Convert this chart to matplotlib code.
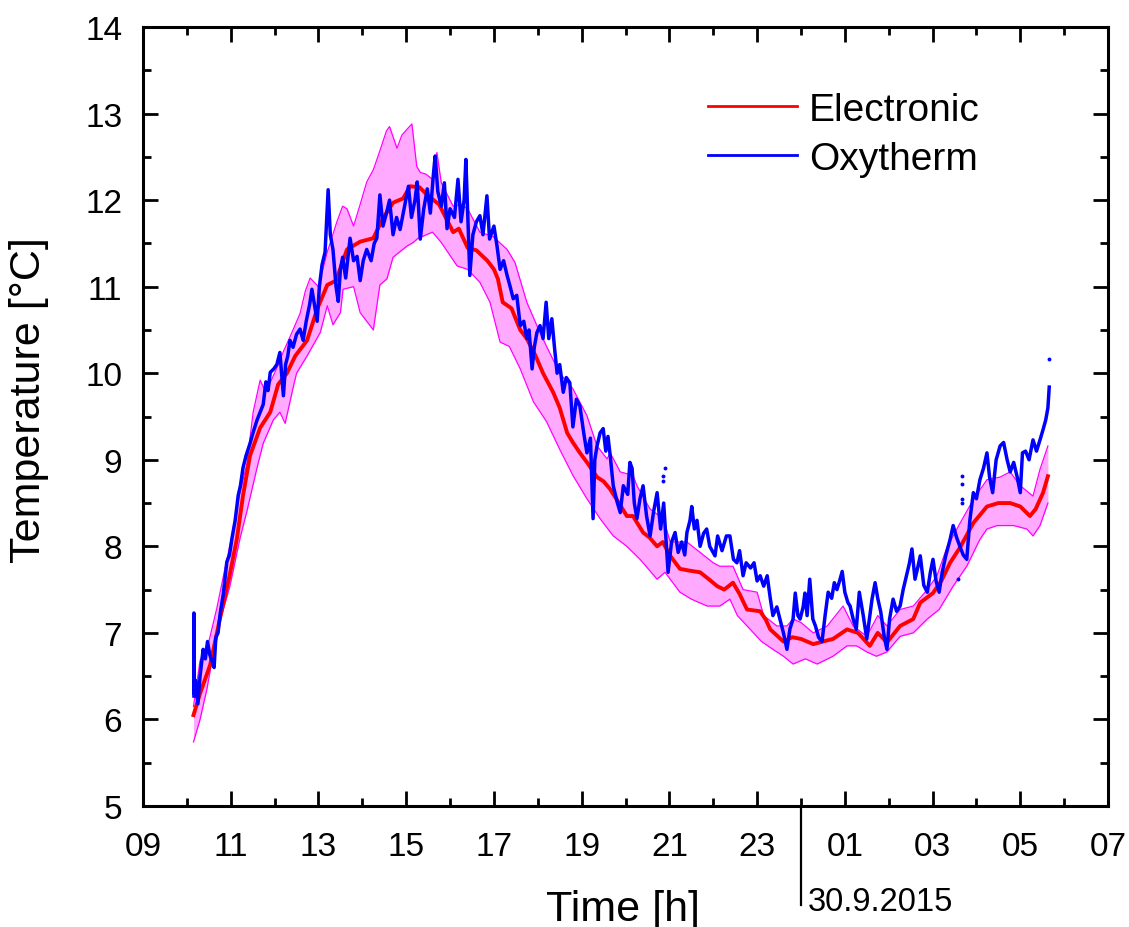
import numpy as np
import matplotlib
matplotlib.use('Agg')
import matplotlib.pyplot as plt
import matplotlib.transforms as mtransforms
from matplotlib.ticker import MultipleLocator

plt.rcParams['font.family'] = ['Liberation Sans', 'DejaVu Sans']

# Electronic sensor (red) - time in hours (24+ = next day)
elec_t = [10.15, 10.3, 10.53, 10.76, 10.98, 11.14, 11.28, 11.44, 11.67, 11.9, 12.08, 12.28, 12.47, 12.74,
          12.97, 13.2, 13.4, 13.65, 13.95, 14.25, 14.47, 14.7, 14.93, 15.09, 15.3, 15.5, 15.75, 16.07, 16.2,
          16.4, 16.6, 16.85, 17.0, 17.09, 17.2, 17.4, 17.6, 17.75, 17.95, 18.12, 18.35, 18.5, 18.67, 18.8,
          18.96, 19.15, 19.35, 19.5, 19.65, 19.85, 20.03, 20.17, 20.4, 20.55, 20.72, 20.85, 21.02, 21.24,
          21.45, 21.7, 21.9, 22.09, 22.25, 22.45, 22.6, 22.77, 23.07, 23.2, 23.3, 23.6, 23.8, 24.0, 24.28,
          24.5, 24.73, 25.05, 25.3, 25.57, 25.75, 25.96, 26.26, 26.56, 26.72, 27.01, 27.2, 27.4, 27.63,
          27.93, 28.24, 28.5, 28.77, 29.0, 29.22, 29.35, 29.52, 29.63]
elec_v = [6.05, 6.3, 6.63, 7.18, 7.68, 8.09, 8.59, 9.05, 9.37, 9.55, 9.87, 10.0, 10.2, 10.38,
          10.74, 11.02, 11.07, 11.43, 11.52, 11.56, 11.79, 11.97, 12.02, 12.16, 12.15, 12.05, 11.95, 11.63, 11.67,
          11.45, 11.42, 11.3, 11.2, 11.09, 10.82, 10.75, 10.5, 10.4, 10.2, 10.0, 9.78, 9.6, 9.31, 9.2,
          9.08, 8.95, 8.8, 8.75, 8.66, 8.5, 8.35, 8.35, 8.16, 8.1, 8.0, 8.05, 7.89, 7.74,
          7.72, 7.7, 7.62, 7.54, 7.5, 7.58, 7.45, 7.27, 7.25, 7.15, 7.04, 6.9, 6.95, 6.93, 6.87,
          6.9, 6.93, 7.04, 7.0, 6.85, 7.0, 6.89, 7.08, 7.16, 7.35, 7.46, 7.6, 7.81, 7.99,
          8.27, 8.46, 8.5, 8.5, 8.46, 8.35, 8.43, 8.62, 8.81]

# uncertainty band of the electronic sensor
upper_t = [10.15, 10.3, 10.5, 10.68, 10.85, 11.05, 11.2, 11.37, 11.51, 11.67, 11.8, 12.05, 12.2, 12.35,
           12.58, 12.7, 12.81, 13.0, 13.2, 13.42, 13.55, 13.65, 13.8, 13.95, 14.1, 14.25, 14.4, 14.55,
           14.62, 14.79, 14.9, 15.02, 15.13, 15.24, 15.32, 15.45, 15.6, 15.7, 15.8, 16.07, 16.25, 16.4,
           16.68, 16.98, 17.3, 17.48, 17.75, 17.98, 18.2, 18.5, 18.8, 19.12, 19.35, 19.58, 19.65, 19.88,
           20.17, 20.26, 20.56, 20.86, 21.02, 21.4, 21.7, 22.0, 22.15, 22.45, 22.68, 23.0, 23.15, 23.45,
           23.68, 23.82, 24.0, 24.28, 24.6, 24.96, 25.19, 25.5, 25.75, 25.96, 26.26, 26.56, 26.88, 27.1,
           27.33, 27.63, 27.93, 28.24, 28.54, 28.77, 29.0, 29.29, 29.45, 29.63]
upper_v = [6.15, 6.68, 6.9, 7.28, 7.7, 8.18, 8.6, 8.96, 9.55, 9.92, 9.78, 10.06, 10.25, 10.42,
           10.69, 10.95, 11.1, 11.0, 11.4, 11.75, 11.93, 11.9, 11.7, 11.95, 12.21, 12.35, 12.57, 12.8,
           12.85, 12.6, 12.75, 12.82, 12.88, 12.39, 12.32, 12.3, 12.24, 12.55, 12.2, 11.93, 11.95, 11.9,
           11.63, 11.58, 11.43, 11.28, 10.82, 10.55, 10.31, 10.0, 9.82, 9.51, 9.16, 9.01, 9.08, 8.86,
           8.82, 8.7, 8.43, 8.32, 8.05, 8.05, 7.93, 7.81, 7.77, 7.77, 7.5, 7.47, 7.2, 7.08,
           7.08, 7.16, 7.12, 7.0, 7.08, 7.31, 7.08, 6.96, 7.2, 7.08, 7.27, 7.31, 7.5, 7.66,
           7.99, 8.27, 8.54, 8.77, 8.8, 8.86, 8.7, 8.58, 8.89, 9.16]
lower_t = [10.15, 10.3, 10.46, 10.68, 10.98, 11.21, 11.37, 11.6, 11.74, 11.97, 12.12, 12.24, 12.42, 12.5,
           12.74, 13.04, 13.2, 13.33, 13.5, 13.56, 13.8, 13.95, 14.1, 14.25, 14.4, 14.56, 14.7, 15.02,
           15.16, 15.27, 15.6, 15.8, 16.16, 16.4, 16.68, 16.91, 17.14, 17.35, 17.6, 17.9, 18.2, 18.5,
           18.8, 19.12, 19.42, 19.72, 20.03, 20.33, 20.72, 20.9, 21.24, 21.5, 21.86, 22.15, 22.38, 22.55,
           22.9, 23.1, 23.36, 23.6, 23.82, 24.1, 24.37, 24.73, 25.05, 25.27, 25.5, 25.72, 25.96, 26.26,
           26.56, 26.88, 27.15, 27.47, 27.78, 28.08, 28.24, 28.47, 28.85, 29.15, 29.29, 29.45, 29.63]
lower_v = [5.74, 6.0, 6.36, 7.0, 7.54, 8.09, 8.41, 8.91, 9.19, 9.46, 9.55, 9.42, 9.83, 10.0,
           10.2, 10.47, 10.78, 10.56, 10.7, 10.97, 11.0, 10.7, 10.6, 10.5, 11.02, 11.09, 11.34, 11.47,
           11.51, 11.56, 11.63, 11.51, 11.24, 11.2, 11.05, 10.82, 10.36, 10.31, 10.05, 9.67, 9.44, 9.12,
           8.82, 8.55, 8.32, 8.12, 8.0, 7.85, 7.62, 7.7, 7.47, 7.39, 7.31, 7.31, 7.39, 7.2,
           7.01, 6.9, 6.81, 6.73, 6.64, 6.7, 6.64, 6.73, 6.85, 6.85, 6.78, 6.73, 6.78, 6.96,
           7.0, 7.16, 7.27, 7.54, 7.77, 8.08, 8.2, 8.24, 8.24, 8.2, 8.12, 8.24, 8.5]

# Oxytherm probe (blue)
oxy_t = [10.16, 10.16, 10.165, 10.2, 10.25, 10.3, 10.37, 10.42, 10.47, 10.52, 10.57, 10.62, 10.66, 10.71,
         10.76, 10.83, 10.91, 10.97, 11.03, 11.1, 11.17, 11.22, 11.28, 11.35, 11.44, 11.5, 11.6, 11.67,
         11.74, 11.8, 11.85, 11.9, 11.98, 12.05, 12.12, 12.2, 12.25, 12.3, 12.35, 12.42, 12.5, 12.58,
         12.65, 12.72, 12.8, 12.85, 12.92, 12.97, 13.02, 13.08, 13.15, 13.22, 13.27, 13.33, 13.4, 13.45,
         13.5, 13.55, 13.62, 13.72, 13.8, 13.88, 13.95, 14.02, 14.1, 14.2, 14.27, 14.33, 14.4, 14.47,
         14.55, 14.62, 14.7, 14.78, 14.86, 14.95, 15.05, 15.12, 15.2, 15.25, 15.32, 15.4, 15.48, 15.55,
         15.62, 15.66, 15.72, 15.8, 15.87, 15.93, 16.0, 16.1, 16.18, 16.25, 16.32, 16.36, 16.45, 16.52,
         16.6, 16.68, 16.75, 16.84, 16.9, 17.0, 17.07, 17.14, 17.22, 17.3, 17.37, 17.44, 17.52, 17.6,
         17.68, 17.75, 17.8, 17.87, 17.92, 17.98, 18.05, 18.12, 18.19, 18.25, 18.32, 18.38, 18.44, 18.5,
         18.58, 18.65, 18.73, 18.8, 18.88, 18.96, 19.05, 19.12, 19.2, 19.26, 19.3, 19.35, 19.42, 19.49,
         19.55, 19.6, 19.65, 19.72, 19.81, 19.88, 19.95, 20.05, 20.1, 20.15, 20.2, 20.26, 20.33, 20.4,
         20.48, 20.56, 20.64, 20.72, 20.8, 20.87, 20.97, 21.05, 21.13, 21.2, 21.28, 21.35, 21.4, 21.47,
         21.51, 21.57, 21.63, 21.7, 21.78, 21.85, 21.92, 22.04, 22.1, 22.2, 22.3, 22.38, 22.46, 22.54,
         22.6, 22.68, 22.75, 22.85, 22.93, 23.0, 23.07, 23.15, 23.23, 23.3, 23.36, 23.45, 23.52, 23.6,
         23.68, 23.75, 23.82, 23.87, 23.93, 23.98, 24.05, 24.09, 24.14, 24.2, 24.27, 24.33, 24.4, 24.48,
         24.55, 24.62, 24.7, 24.76, 24.82, 24.88, 24.94, 25.0, 25.07, 25.12, 25.19, 25.26, 25.33, 25.42,
         25.5, 25.57, 25.62, 25.69, 25.75, 25.82, 25.9, 25.96, 26.02, 26.1, 26.18, 26.26, 26.33, 26.4,
         26.47, 26.53, 26.6, 26.66, 26.72, 26.8, 26.88, 26.95, 27.01, 27.08, 27.15, 27.22, 27.3, 27.4,
         27.47, 27.55, 27.63, 27.7, 27.78, 27.85, 27.93, 28.0, 28.08, 28.16, 28.24, 28.3, 28.37, 28.45,
         28.54, 28.62, 28.7, 28.77, 28.85, 28.93, 29.0, 29.05, 29.12, 29.2, 29.29, 29.37, 29.45, 29.52,
         29.58, 29.63, 29.66]
oxy_v = [6.27, 7.23, 6.3, 6.45, 6.18, 6.5, 6.81, 6.7, 6.9, 6.75, 6.68, 6.6, 6.95, 7.0,
         7.23, 7.45, 7.82, 7.9, 8.1, 8.3, 8.59, 8.7, 8.91, 9.05, 9.19, 9.3, 9.46, 9.55,
         9.64, 9.9, 9.8, 10.01, 10.05, 10.1, 10.24, 9.74, 10.1, 10.2, 10.38, 10.3, 10.45, 10.51,
         10.38, 10.6, 10.8, 10.97, 10.75, 10.6, 11.0, 11.25, 11.4, 12.12, 11.6, 11.43, 11.0, 10.83,
         11.2, 11.34, 11.1, 11.56, 11.3, 11.35, 11.07, 11.3, 11.43, 11.3, 11.5, 11.56, 12.06, 11.7,
         11.85, 12.0, 11.6, 11.8, 11.66, 11.9, 12.16, 11.8, 12.0, 12.21, 11.55, 11.9, 12.13, 11.85,
         12.3, 12.51, 12.1, 11.93, 12.2, 11.67, 11.9, 11.8, 12.24, 11.75, 12.0, 12.47, 11.13, 11.6,
         11.75, 11.82, 11.6, 12.05, 11.55, 11.7, 11.47, 11.2, 11.3, 11.13, 11.0, 10.86, 10.9, 10.55,
         10.6, 10.4, 10.5, 10.05, 10.3, 10.47, 10.55, 10.4, 10.82, 10.4, 10.63, 10.3, 10.0, 10.1,
         9.78, 9.95, 9.89, 9.38, 9.7, 9.62, 9.3, 9.08, 9.25, 8.32, 9.0, 9.16, 9.31, 9.36,
         9.1, 9.27, 9.05, 8.7, 8.51, 8.39, 8.7, 8.6, 8.97, 8.9, 8.5, 8.32, 8.55, 8.7,
         8.35, 8.12, 8.4, 8.62, 8.2, 8.5, 7.7, 8.05, 8.16, 7.93, 8.05, 7.9, 8.16, 8.3,
         8.46, 8.2, 8.3, 8.0, 8.15, 8.2, 8.0, 7.89, 8.12, 7.95, 8.12, 8.12, 7.85, 7.81,
         7.95, 7.66, 7.81, 7.75, 7.81, 7.6, 7.66, 7.54, 7.66, 7.4, 7.2, 7.3, 7.16, 7.0,
         6.81, 7.05, 7.16, 7.46, 7.2, 7.16, 7.3, 7.46, 7.2, 7.62, 7.16, 7.08, 6.95, 6.9,
         7.2, 7.47, 7.4, 7.58, 7.5, 7.6, 7.71, 7.47, 7.35, 7.31, 7.16, 7.04, 7.47, 7.2,
         6.93, 7.2, 7.39, 7.58, 7.4, 7.24, 6.95, 6.81, 7.16, 7.39, 7.25, 7.31, 7.5, 7.65,
         7.8, 7.97, 7.62, 7.75, 7.89, 7.55, 7.47, 7.7, 7.85, 7.6, 7.47, 7.7, 7.89, 8.08,
         8.24, 8.1, 7.99, 7.9, 7.85, 8.3, 8.62, 8.55, 8.77, 8.9, 9.08, 8.8, 8.62, 9.0,
         9.16, 9.2, 9.0, 8.86, 8.97, 8.8, 8.62, 9.08, 9.1, 9.0, 9.23, 9.1, 9.23, 9.35,
         9.46, 9.6, 9.84]
# isolated Oxytherm readings
dots_t = [20.9, 20.86, 20.86, 27.58, 27.67, 27.67, 27.67, 27.67, 29.65]
dots_v = [8.91, 8.81, 8.75, 7.62, 8.81, 8.72, 8.55, 8.5, 10.16]

xticks = [9, 11, 13, 15, 17, 19, 21, 23, 25, 27, 29, 31]
xticklabels = ['09', '11', '13', '15', '17', '19', '21', '23', '01', '03', '05', '07']
midnight = 24
date_label = '30.9.2015'

fig = plt.figure(figsize=(11.29, 9.28), dpi=100)
ax = fig.add_axes([0.1267, 0.1304, 0.8547, 0.8394])

# band: interpolate both edges on a common grid for fill
grid = np.union1d(upper_t, lower_t)
ax.fill_between(grid, np.interp(grid, lower_t, lower_v), np.interp(grid, upper_t, upper_v),
                color='#ffaaff', lw=0)
ax.plot(upper_t, upper_v, color='#ff00ff', lw=0.9)
ax.plot(lower_t, lower_v, color='#ff00ff', lw=0.9)
ax.plot(elec_t, elec_v, color='#ff0000', lw=2.8, label='Electronic')
ax.plot(oxy_t, oxy_v, color='#0000ff', lw=2.5, label='Oxytherm')
ax.plot(dots_t, dots_v, 'o', color='#0000ff', ms=2.8, mew=0)

ax.set_xlim(9, 31)
ax.set_ylim(5, 14)
ax.set_xticks(xticks)
ax.set_xticklabels(xticklabels)
ax.xaxis.set_minor_locator(MultipleLocator(1))
ax.yaxis.set_major_locator(MultipleLocator(1))
ax.yaxis.set_minor_locator(MultipleLocator(0.5))
ax.tick_params(which='both', direction='in', top=True, right=True, width=2, labelsize=24)
ax.tick_params(which='major', length=11)
ax.tick_params(which='minor', length=6)
ax.tick_params(axis='x', pad=18)
ax.tick_params(axis='y', pad=15)
for s in ax.spines.values():
    s.set_linewidth(2.2)

ax.set_xlabel('Time [h]', fontsize=31)
ax.set_ylabel('Temperature [°C]', fontsize=31)
ax.xaxis.set_label_coords(0.497, -0.106)
ax.yaxis.set_label_coords(-0.097, 0.522)

# day marker below the axis
trans = mtransforms.blended_transform_factory(ax.transData, ax.transAxes)
ax.plot([midnight, midnight], [0, -0.127], color='black', lw=1.6, transform=trans, clip_on=False)
ax.text(midnight + 0.15, -0.122, date_label, transform=trans, fontsize=23.5, ha='left', va='center')

leg = ax.legend(loc='upper left', bbox_to_anchor=(0.627, 0.900), bbox_transform=fig.transFigure,
                frameon=False, fontsize=28, handlelength=2.3, handletextpad=0.3,
                labelspacing=0.33, borderpad=0, borderaxespad=0)
for line in leg.get_lines():
    line.set_linewidth(2)

plt.savefig('out.png', dpi=100)
